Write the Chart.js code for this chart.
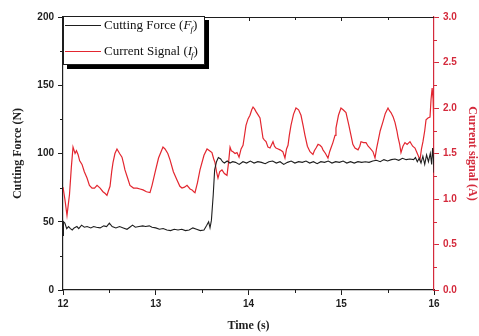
<!DOCTYPE html>
<html>
<head>
<meta charset="utf-8">
<script src="https://cdn.jsdelivr.net/npm/chart.js@4.4.1/dist/chart.umd.min.js"></script>
<style>
  html, body { margin: 0; padding: 0; background: #ffffff; }
  #wrap { width: 479px; height: 336px; position: relative; }
</style>
</head>
<body>
<div id="wrap"><canvas id="c" width="479" height="336"></canvas></div>
<script>
// Cutting force (N) over time (s)
const forceTime = [
  12.00, 12.005, 12.02, 12.04, 12.06, 12.08, 12.10, 12.12, 12.15, 12.17, 12.20, 12.23, 12.26, 12.30,
  12.33, 12.36, 12.40, 12.44, 12.47, 12.50, 12.53, 12.57, 12.61, 12.65, 12.69, 12.72, 12.75, 12.78,
  12.82, 12.86, 12.89, 12.93, 12.96, 13.00, 13.04, 13.08, 13.12, 13.16, 13.20, 13.24, 13.28, 13.32,
  13.36, 13.40, 13.44, 13.48, 13.52, 13.55, 13.57, 13.585, 13.60, 13.62, 13.635, 13.655, 13.675, 13.70,
  13.72, 13.74, 13.77, 13.80, 13.83, 13.86, 13.90, 13.94, 13.98, 14.02, 14.06, 14.10, 14.14, 14.18,
  14.22, 14.26, 14.30, 14.34, 14.38, 14.42, 14.46, 14.50, 14.54, 14.58, 14.62, 14.66, 14.70, 14.74,
  14.78, 14.82, 14.86, 14.90, 14.94, 14.98, 15.02, 15.06, 15.10, 15.14, 15.18, 15.22, 15.26, 15.30,
  15.34, 15.38, 15.42, 15.46, 15.50, 15.54, 15.58, 15.62, 15.66, 15.70, 15.74, 15.78, 15.80, 15.82,
  15.84, 15.86, 15.88, 15.90, 15.92, 15.94, 15.96, 15.975, 15.985, 15.995, 16.00
];
const forceN = [
  40, 50, 49, 45, 46.5, 45, 44, 45.5, 46.5, 45, 47.5, 46, 46.5, 45.5,
  46.5, 46, 45.5, 47, 46.5, 49, 46.5, 45.5, 46.5, 45.5, 44.5, 46, 47.5, 46,
  46.5, 47, 46.5, 47, 46, 45.5, 44.5, 45, 44, 43.5, 44.5, 44, 44.5, 43.5,
  44, 45.5, 44.5, 43.5, 44, 47.5, 50, 45.5, 51, 70, 88, 94, 97, 96,
  94, 93, 94.5, 93, 94, 93.5, 92, 94, 93, 94.5, 93, 94, 93.5, 92.5,
  94, 94.5, 93, 94, 92, 93.5, 94.5, 93, 94, 93.5, 94.5, 93, 94, 92.5,
  94, 93.5, 94.5, 93, 94, 93.5, 94.5, 93, 94, 93, 94, 93.5, 94, 93.5,
  94.5, 95, 94, 95.5, 94.5, 95.5, 96, 95, 96.5, 95.5, 96, 95.5, 97, 94,
  96.5, 93, 98, 92, 99, 94, 100, 92, 104, 96, 86
];

// Current signal (A) over time (s)
const currentTime = [
  12.00, 12.02, 12.043, 12.07, 12.09, 12.108, 12.13, 12.145, 12.162, 12.18, 12.205, 12.23, 12.259, 12.285,
  12.313, 12.34, 12.367, 12.40, 12.431, 12.455, 12.474, 12.49, 12.507, 12.525, 12.539, 12.56, 12.582, 12.61,
  12.636, 12.655, 12.668, 12.70, 12.722, 12.76, 12.798, 12.83, 12.863, 12.90, 12.938, 12.96, 12.992, 13.03,
  13.078, 13.10, 13.13, 13.154, 13.19, 13.229, 13.26, 13.283, 13.31, 13.337, 13.37, 13.391, 13.41, 13.423,
  13.45, 13.477, 13.52, 13.553, 13.58, 13.606, 13.625, 13.639, 13.655, 13.671, 13.69, 13.714, 13.74, 13.768,
  13.785, 13.801, 13.815, 13.833, 13.855, 13.876, 13.898, 13.92, 13.941, 13.96, 13.973, 13.995, 14.016, 14.035,
  14.049, 14.065, 14.081, 14.10, 14.124, 14.14, 14.156, 14.17, 14.189, 14.21, 14.232, 14.25, 14.264, 14.28,
  14.296, 14.32, 14.34, 14.37, 14.393, 14.41, 14.426, 14.44, 14.458, 14.485, 14.512, 14.54, 14.566, 14.59,
  14.609, 14.635, 14.663, 14.695, 14.71, 14.728, 14.75, 14.771, 14.79, 14.803, 14.83, 14.857, 14.875, 14.889,
  14.91, 14.933, 14.943, 14.97, 14.997, 15.02, 15.051, 15.08, 15.105, 15.125, 15.148, 15.181, 15.20, 15.213,
  15.24, 15.267, 15.29, 15.31, 15.342, 15.364, 15.38, 15.396, 15.42, 15.45, 15.475, 15.504, 15.52, 15.536,
  15.56, 15.58, 15.60, 15.612, 15.63, 15.644, 15.665, 15.687, 15.71, 15.741, 15.77, 15.795, 15.82, 15.849,
  15.865, 15.881, 15.90, 15.914, 15.935, 15.957, 15.968, 15.98, 15.99, 16.00
];
const currentA = [
  1.13, 1.00, 0.82, 1.05, 1.35, 1.57, 1.50, 1.53, 1.49, 1.42, 1.38, 1.30, 1.23, 1.15,
  1.12, 1.12, 1.15, 1.12, 1.08, 1.06, 1.04, 1.09, 1.14, 1.30, 1.40, 1.50, 1.55, 1.50,
  1.46, 1.38, 1.32, 1.22, 1.15, 1.12, 1.12, 1.11, 1.10, 1.08, 1.07, 1.15, 1.29, 1.45,
  1.57, 1.55, 1.50, 1.43, 1.30, 1.21, 1.14, 1.12, 1.13, 1.15, 1.11, 1.10, 1.08, 1.07,
  1.18, 1.32, 1.48, 1.55, 1.53, 1.51, 1.44, 1.40, 1.30, 1.23, 1.30, 1.32, 1.28, 1.26,
  1.40, 1.57, 1.53, 1.52, 1.50, 1.51, 1.46, 1.55, 1.59, 1.72, 1.81, 1.88, 1.92, 1.98,
  2.01, 1.99, 1.96, 1.93, 1.89, 1.78, 1.67, 1.65, 1.63, 1.57, 1.56, 1.60, 1.63, 1.58,
  1.56, 1.55, 1.54, 1.52, 1.45, 1.55, 1.59, 1.70, 1.81, 1.93, 2.00, 1.98, 1.92, 1.80,
  1.70, 1.58, 1.52, 1.49, 1.53, 1.56, 1.60, 1.59, 1.57, 1.54, 1.50, 1.45, 1.52, 1.56,
  1.62, 1.70, 1.78, 1.92, 2.00, 1.98, 1.95, 1.82, 1.70, 1.60, 1.56, 1.54, 1.58, 1.63,
  1.62, 1.62, 1.58, 1.56, 1.52, 1.45, 1.55, 1.63, 1.75, 1.85, 1.94, 2.00, 1.97, 1.95,
  1.90, 1.84, 1.75, 1.68, 1.60, 1.51, 1.58, 1.62, 1.60, 1.63, 1.58, 1.56, 1.50, 1.43,
  1.55, 1.63, 1.75, 1.87, 1.89, 1.90, 2.09, 2.22, 2.10, 1.75
];

const timeTicks = [12, 13, 14, 15, 16];
const forceTicks = [0, 50, 100, 150, 200];
const currentTicks = [0.0, 0.5, 1.0, 1.5, 2.0, 2.5, 3.0];

const INK = '#1e1e1e';
const RED = '#e3262f';
const RED_AXIS = '#d42a3c';

const toPoints = (xs, ys) => xs.map((x, i) => ({ x: x, y: ys[i] }));

// Frame extras: top border with inward ticks, minor ticks on the three axes
const framePlugin = {
  id: 'frame',
  afterDraw(chart) {
    const { ctx, chartArea: a, scales } = chart;
    const xs = scales.x, yl = scales.y, yr = scales.y1;
    ctx.save();
    ctx.lineWidth = 1.2;
    ctx.strokeStyle = INK;
    // top border
    ctx.beginPath();
    ctx.moveTo(a.left, a.top + 0.5);
    ctx.lineTo(a.right, a.top + 0.5);
    ctx.stroke();
    ctx.lineWidth = 1;
    for (let t = 12.5; t < 16; t += 0.5) {
      const px = Math.round(xs.getPixelForValue(t)) + 0.5;
      const major = Math.abs(t - Math.round(t)) < 1e-6;
      ctx.beginPath();
      ctx.moveTo(px, a.top);
      ctx.lineTo(px, a.top + (major ? 4 : 3));
      ctx.stroke();
      if (!major) {
        ctx.beginPath();
        ctx.moveTo(px, a.bottom);
        ctx.lineTo(px, a.bottom + 3);
        ctx.stroke();
      }
    }
    // left minor ticks
    for (let v = 25; v < 200; v += 50) {
      const py = Math.round(yl.getPixelForValue(v)) + 0.5;
      ctx.beginPath();
      ctx.moveTo(a.left, py);
      ctx.lineTo(a.left - 3, py);
      ctx.stroke();
    }
    // right minor ticks
    ctx.strokeStyle = RED_AXIS;
    for (let v = 0.25; v < 3; v += 0.5) {
      const py = Math.round(yr.getPixelForValue(v)) + 0.5;
      ctx.beginPath();
      ctx.moveTo(a.right, py);
      ctx.lineTo(a.right + 3, py);
      ctx.stroke();
    }
    ctx.restore();
  }
};

// Boxed legend with a drop shadow and subscripted symbols
const legendPlugin = {
  id: 'boxLegend',
  afterDraw(chart) {
    const { ctx, chartArea: a } = chart;
    const x0 = a.left, y0 = a.top - 1, w = 141, h = 48;
    ctx.save();
    ctx.fillStyle = '#000';
    ctx.fillRect(x0 + 4, y0 + 4, w + 1, h + 1);
    ctx.fillStyle = '#fff';
    ctx.fillRect(x0, y0, w, h);
    ctx.strokeStyle = INK;
    ctx.lineWidth = 1;
    ctx.strokeRect(x0 + 0.5, y0 + 0.5, w, h);

    const rows = [
      { color: INK, pre: 'Cutting Force (', sym: 'F', y: y0 + 9 },
      { color: RED, pre: 'Current Signal (', sym: 'I', y: y0 + 35 }
    ];
    rows.forEach(r => {
      ctx.strokeStyle = r.color;
      ctx.lineWidth = 1;
      ctx.beginPath();
      ctx.moveTo(x0 + 2, r.y + 0.5);
      ctx.lineTo(x0 + 38, r.y + 0.5);
      ctx.stroke();

      ctx.fillStyle = '#111';
      ctx.textBaseline = 'middle';
      ctx.textAlign = 'left';
      let tx = x0 + 41;
      ctx.font = '13px "Liberation Serif", serif';
      ctx.fillText(r.pre, tx, r.y + 1);
      tx += ctx.measureText(r.pre).width;
      ctx.font = 'italic 13px "Liberation Serif", serif';
      ctx.fillText(r.sym, tx, r.y + 1);
      tx += ctx.measureText(r.sym).width;
      ctx.font = 'italic 9px "Liberation Serif", serif';
      ctx.fillText('f', tx - 1, r.y + 5);
      tx += ctx.measureText('f').width;
      ctx.font = '13px "Liberation Serif", serif';
      ctx.fillText(')', tx - 1, r.y + 1);
    });
    ctx.restore();
  }
};

Chart.defaults.font.family = '"Liberation Sans", Arial, sans-serif';

new Chart(document.getElementById('c'), {
  type: 'line',
  data: {
    datasets: [
      {
        label: 'Cutting Force (Ff)',
        data: toPoints(forceTime, forceN),
        yAxisID: 'y',
        borderColor: INK,
        borderWidth: 1.1,
        pointRadius: 0,
        tension: 0
      },
      {
        label: 'Current Signal (If)',
        data: toPoints(currentTime, currentA),
        yAxisID: 'y1',
        borderColor: RED,
        borderWidth: 1.2,
        pointRadius: 0,
        tension: 0
      }
    ]
  },
  options: {
    responsive: false,
    animation: false,
    devicePixelRatio: 1,
    parsing: true,
    layout: { padding: { top: 17, left: 0, right: 0, bottom: 0 } },
    plugins: { legend: { display: false }, tooltip: { enabled: false } },
    scales: {
      x: {
        type: 'linear',
        position: 'bottom',
        min: timeTicks[0],
        max: timeTicks[timeTicks.length - 1],
        afterBuildTicks: s => { s.ticks = timeTicks.map(v => ({ value: v })); },
        afterFit: s => { s.height = 46; },
        ticks: { color: INK, font: { size: 10, weight: 'bold' }, padding: 3, maxRotation: 0 },
        grid: { drawOnChartArea: false, drawTicks: true, tickLength: 5, color: INK },
        border: { color: INK, width: 1.2 },
        title: {
          display: true, text: 'Time (s)', color: INK,
          font: { family: '"Liberation Serif", serif', size: 12, weight: 'bold' },
          padding: { top: 0, bottom: 3 }
        }
      },
      y: {
        position: 'left',
        min: 0, max: 200,
        afterBuildTicks: s => { s.ticks = forceTicks.map(v => ({ value: v })); },
        afterFit: s => { s.width = 63; },
        ticks: { color: INK, font: { size: 10, weight: 'bold' }, padding: 4 },
        grid: { drawOnChartArea: false, drawTicks: true, tickLength: 5, color: INK },
        border: { color: INK, width: 1.2 },
        title: {
          display: true, text: 'Cutting Force (N)', color: INK,
          font: { family: '"Liberation Serif", serif', size: 12, weight: 'bold' },
          padding: { top: 11, bottom: 0 }
        }
      },
      y1: {
        position: 'right',
        min: 0, max: 3,
        afterBuildTicks: s => { s.ticks = currentTicks.map(v => ({ value: v })); },
        afterFit: s => { s.width = 45; },
        ticks: {
          color: RED_AXIS, font: { size: 10, weight: 'bold' }, padding: 4,
          callback: v => Number(v).toFixed(1)
        },
        grid: { drawOnChartArea: false, drawTicks: true, tickLength: 5, color: RED_AXIS },
        border: { color: RED_AXIS, width: 1.2 },
        title: {
          display: true, text: 'Current signal (A)', color: RED_AXIS,
          font: { family: '"Liberation Serif", serif', size: 12, weight: 'bold' },
          padding: { top: 0, bottom: 0 }
        }
      }
    }
  },
  plugins: [framePlugin, legendPlugin]
});
</script>
</body>
</html>
